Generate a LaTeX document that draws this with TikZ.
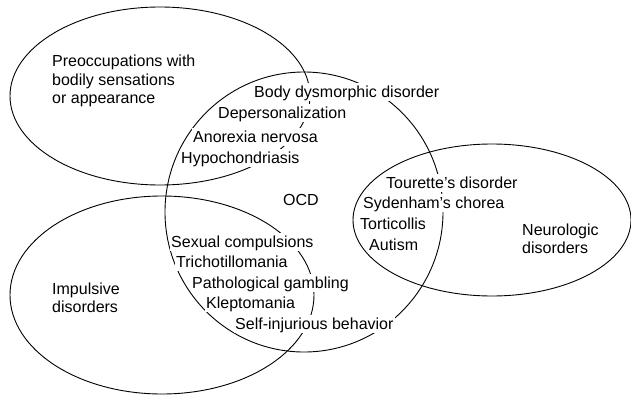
\documentclass[tikz,border=0pt]{standalone}
\usepackage{fontspec}
\setmainfont{Liberation Sans}
\begin{document}
\begin{tikzpicture}[x=1pt,y=-1pt,
  ring/.style={draw=black,line width=0.9pt},
  lbl/.style={anchor=west,fill=white,inner xsep=1pt,inner ysep=0pt,text height=14.5pt,text depth=3.4pt,
    font=\fontsize{16}{18.5}\selectfont},
  grp/.style={anchor=west,inner sep=1pt,align=left,
    font=\fontsize{16}{18.5}\selectfont}]
\useasboundingbox (0,0) rectangle (631,396);
% circles of the diagram
\coordinate (cpre) at (160,96);
\coordinate (cocd) at (304,212);
\coordinate (cimp) at (162,295);
\coordinate (cneu) at (492,220);
\draw[ring] (cpre) ellipse [x radius=150, y radius=89];
\draw[ring] (cocd) ellipse [x radius=139, y radius=140];
\draw[ring] (cimp) ellipse [x radius=152, y radius=99];
\draw[ring] (cneu) ellipse [x radius=139, y radius=76];
% group labels
\node[grp] (pre) at (51,81) {Preoccupations with\\bodily sensations\\or appearance};
\node[grp] (imp) at (51,298) {Impulsive\\disorders};
\node[grp] (neu) at (521,239) {Neurologic\\disorders};
\node[lbl,fill=none] (ocd) at (282,200) {OCD};
% items
\node[lbl] (bdd) at (253,92) {Body dysmorphic disorder};
\node[lbl] (dep) at (217,113) {Depersonalization};
\node[lbl] (ano) at (192,137) {Anorexia nervosa};
\node[lbl] (hyp) at (180,158) {Hypochondriasis};
\node[lbl] (tou) at (385,183) {Tourette’s disorder};
\node[lbl] (syd) at (362,203) {Sydenham’s chorea};
\node[lbl] (tor) at (359,224) {Torticollis};
\node[lbl] (aut) at (368,245) {Autism};
\node[lbl] (sex) at (170,242) {Sexual compulsions};
\node[lbl] (tri) at (175,262) {Trichotillomania};
\node[lbl] (pat) at (191,283) {Pathological gambling};
\node[lbl] (kle) at (205,303) {Kleptomania};
\node[lbl] (sel) at (234,324) {Self-injurious behavior};
\end{tikzpicture}
\end{document}
